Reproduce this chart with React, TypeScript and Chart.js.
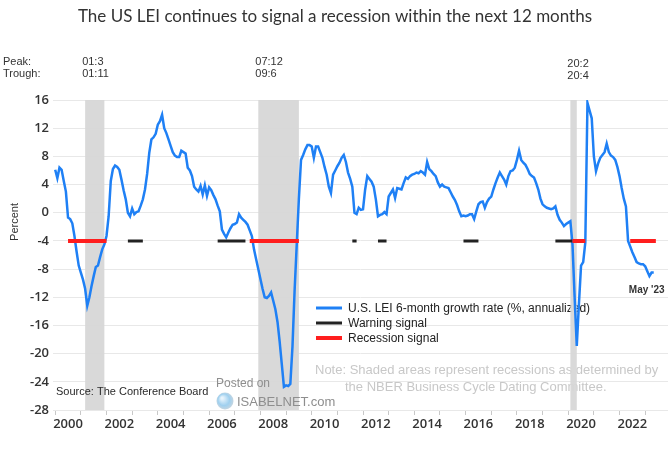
import React, { useEffect, useRef } from "react";
import { Chart, registerables } from "chart.js";
Chart.register(...registerables);

// ---------- DATA ----------
const lineDates = [
  "2000-01","2000-02","2000-03","2000-04","2000-05","2000-06","2000-07","2000-08","2000-09","2000-10","2000-11","2000-12",
  "2001-01","2001-02","2001-03","2001-04","2001-05","2001-06","2001-07","2001-08","2001-09","2001-10","2001-11","2001-12",
  "2002-01","2002-02","2002-03","2002-04","2002-05","2002-06","2002-07","2002-08","2002-09","2002-10","2002-11","2002-12",
  "2003-01","2003-02","2003-03","2003-04","2003-05","2003-06","2003-07","2003-08","2003-09","2003-10","2003-11","2003-12",
  "2004-01","2004-02","2004-03","2004-04","2004-05","2004-06","2004-07","2004-08","2004-09","2004-10","2004-11","2004-12",
  "2005-01","2005-02","2005-03","2005-04","2005-05","2005-06","2005-07","2005-08","2005-09","2005-10","2005-11","2005-12",
  "2006-01","2006-02","2006-03","2006-04","2006-05","2006-06","2006-07","2006-08","2006-09","2006-10","2006-11","2006-12",
  "2007-01","2007-02","2007-03","2007-04","2007-05","2007-06","2007-07","2007-08","2007-09","2007-10","2007-11","2007-12",
  "2008-01","2008-02","2008-03","2008-04","2008-05","2008-06","2008-07","2008-08","2008-09","2008-10","2008-11","2008-12",
  "2009-01","2009-02","2009-03","2009-04","2009-05","2009-06","2009-07","2009-08","2009-09","2009-10","2009-11","2009-12",
  "2010-01","2010-02","2010-03","2010-04","2010-05","2010-06","2010-07","2010-08","2010-09","2010-10","2010-11","2010-12",
  "2011-01","2011-02","2011-03","2011-04","2011-05","2011-06","2011-07","2011-08","2011-09","2011-10","2011-11","2011-12",
  "2012-01","2012-02","2012-03","2012-04","2012-05","2012-06","2012-07","2012-08","2012-09","2012-10","2012-11","2012-12",
  "2013-01","2013-02","2013-03","2013-04","2013-05","2013-06","2013-07","2013-08","2013-09","2013-10","2013-11","2013-12",
  "2014-01","2014-02","2014-03","2014-04","2014-05","2014-06","2014-07","2014-08","2014-09","2014-10","2014-11","2014-12",
  "2015-01","2015-02","2015-03","2015-04","2015-05","2015-06","2015-07","2015-08","2015-09","2015-10","2015-11","2015-12",
  "2016-01","2016-02","2016-03","2016-04","2016-05","2016-06","2016-07","2016-08","2016-09","2016-10","2016-11","2016-12",
  "2017-01","2017-02","2017-03","2017-04","2017-05","2017-06","2017-07","2017-08","2017-09","2017-10","2017-11","2017-12",
  "2018-01","2018-02","2018-03","2018-04","2018-05","2018-06","2018-07","2018-08","2018-09","2018-10","2018-11","2018-12",
  "2019-01","2019-02","2019-03","2019-04","2019-05","2019-06","2019-07","2019-08","2019-09","2019-10","2019-11","2019-12",
  "2020-01","2020-02","2020-03","2020-04","2020-05","2020-06","2020-07","2020-08","2020-09","2020-10","2020-11","2020-12",
  "2021-01","2021-02","2021-03","2021-04","2021-05","2021-06","2021-07","2021-08","2021-09","2021-10","2021-11","2021-12",
  "2022-01","2022-02","2022-03","2022-04","2022-05","2022-06","2022-07","2022-08","2022-09","2022-10","2022-11","2022-12",
  "2023-01","2023-02","2023-03","2023-04","2023-05",
];

const lineValues = [
  6.1, 4.9, 6.4, 6.1, 4.5, 3.0, -0.7, -0.9, -1.5, -3.3, -5.5, -7.5,
  -8.5, -9.5, -10.8, -13.2, -12.0, -10.4, -9.0, -7.7, -7.5, -6.3, -5.2, -4.5,
  -3.3, -0.5, 4.5, 6.2, 6.7, 6.5, 6.1, 4.7, 3.2, 1.9, 0.0, -0.5,
  0.6, -0.2, 0.1, 0.2, 1.0, 1.9, 3.3, 5.5, 8.5, 10.4, 10.7, 11.2,
  12.5, 13.0, 13.9, 12.0, 11.3, 10.4, 9.5, 8.6, 8.1, 7.9, 7.9, 8.8,
  8.6, 8.4, 6.4, 6.0, 5.2, 3.7, 3.3, 3.0, 3.8, 2.6, 3.9, 2.4,
  3.6, 3.2, 2.5, 1.9, 1.0, 0.2, -2.4, -3.0, -3.5, -2.8, -2.2, -1.7,
  -1.6, -1.4, -0.2, -0.7, -1.0, -1.3, -1.7, -2.5, -3.3, -5.2, -6.6, -8.0,
  -9.4, -10.8, -12.0, -12.1, -11.8, -11.3, -12.5, -13.7, -15.5, -18.3, -21.5, -24.7,
  -24.5, -24.6, -24.3, -19.0, -11.0, -4.5, 2.0, 7.5, 8.2, 9.0, 9.6, 9.6,
  9.4, 7.8, 9.4, 9.4, 8.6, 7.8, 6.5, 5.4, 3.7, 2.8, 5.4, 6.0,
  6.6, 7.1, 7.8, 8.2, 7.2, 5.7, 4.8, 3.7, 0.0, -0.2, 0.7, 0.4,
  0.5, 3.3, 5.2, 4.8, 4.4, 3.7, 1.9, -0.5, -0.3, -0.2, 0.1, -0.2,
  2.3, 2.8, 3.3, 2.1, 3.5, 3.4, 3.3, 4.2, 5.0, 4.8, 5.2, 5.4,
  5.5, 5.7, 5.6, 5.9, 5.7, 5.4, 7.2, 6.2, 5.9, 5.5, 5.2, 4.3,
  3.7, 4.0, 3.7, 3.6, 3.5, 2.9, 2.3, 1.8, 1.1, 0.2, -0.5, -0.4,
  -0.5, -0.4, -0.2, -0.2, -0.9, 0.2, 1.2, 1.5, 1.6, 0.7, 1.5, 2.0,
  2.3, 3.3, 4.2, 5.0, 5.7, 5.2, 4.7, 4.0, 5.2, 5.9, 6.0, 6.4,
  7.5, 8.8, 7.5, 7.1, 6.8, 6.2, 5.5, 5.2, 5.0, 4.2, 3.3, 2.0,
  1.2, 0.9, 0.7, 0.6, 0.5, 0.6, 0.9, -0.3, -1.0, -1.4, -1.9, -1.6,
  -1.4, -1.2, -4.5, -12.0, -18.9, -13.0, -7.5, -7.0, -4.2, 15.6, 14.5, 13.4,
  8.0, 5.9, 7.0, 7.8, 8.2, 8.6, 9.8, 8.6, 8.1, 7.9, 7.5, 6.5,
  5.2, 3.5, 2.0, 0.9, -4.0, -4.8, -5.6, -6.3, -7.0, -7.2, -7.3, -7.3,
  -7.6, -8.3, -9.0, -8.5, -8.5,
];

const recessionStarts = ["2001-03", "2007-12", "2020-02"];
const recessionEnds = ["2001-11", "2009-06", "2020-04"];
const peakLabels = ["01:3", "07:12", "20:2"];
const troughLabels = ["01:11", "09:6", "20:4"];

const signalLevel = -4;
const warningStarts = ["2002-11", "2006-05", "2011-08", "2012-08", "2015-12", "2019-07"];
const warningEnds = ["2003-06", "2007-06", "2011-10", "2012-12", "2016-07", "2020-03"];
const recessionSignalStarts = ["2000-07", "2007-08", "2020-03", "2022-06"];
const recessionSignalEnds = ["2002-01", "2009-07", "2020-09", "2023-06"];

const yMin = -28;
const yMax = 16;
const yStep = 4;
const firstYear = 2000;
const lastYear = 2023;
const labelYears = [2000, 2002, 2004, 2006, 2008, 2010, 2012, 2014, 2016, 2018, 2020, 2022];

const titleText = "The US LEI continues to signal a recession within the next 12 months";
const legendLabels = [
  "U.S. LEI 6-month growth rate (%, annualized)",
  "Warning signal",
  "Recession signal",
];
const noteLines = [
  "Note: Shaded areas represent recessions as determined by",
  "the NBER Business Cycle Dating Committee.",
];
const sourceText = "Source: The Conference Board";
const lastLabel = "May '23";

// ---------- HELPERS ----------
const toYear = (s: string) => {
  const [y, m] = s.split("-").map(Number);
  return y + (m - 1) / 12;
};

const segmentPoints = (starts: string[], ends: string[]) => {
  const pts: { x: number; y: number | null }[] = [];
  starts.forEach((s, i) => {
    pts.push({ x: toYear(s), y: signalLevel });
    pts.push({ x: toYear(ends[i]), y: signalLevel });
    pts.push({ x: toYear(ends[i]) + 0.001, y: null });
  });
  return pts;
};

const BLUE = "#1f80f5";
const RED = "#ff1e1e";
const BLACK = "#222222";

export default function App() {
  const ref = useRef<HTMLCanvasElement | null>(null);

  useEffect(() => {
    const canvas = ref.current;
    if (!canvas) return;

    const underPlugin = {
      id: "under",
      beforeDatasetsDraw(chart: any) {
        const { ctx, chartArea, scales } = chart;
        const xs = scales.x;
        ctx.save();
        // Note text (under shading)
        ctx.fillStyle = "#c8c8c8";
        ctx.font = "13px 'Liberation Sans', Arial, sans-serif";
        ctx.textBaseline = "middle";
        ctx.textAlign = "left";
        ctx.fillText(noteLines[0], 315, 370);
        ctx.fillText(noteLines[1], 345, 387);
        // Legend
        const legendColors = [BLUE, BLACK, RED];
        const legendWidths = [3, 3, 4];
        legendLabels.forEach((t, i) => {
          const y = 308 + i * 15;
          ctx.strokeStyle = legendColors[i];
          ctx.lineWidth = legendWidths[i];
          ctx.beginPath();
          ctx.moveTo(316, y);
          ctx.lineTo(342, y);
          ctx.stroke();
          ctx.fillStyle = "#222";
          ctx.font = "12px 'Liberation Sans', Arial, sans-serif";
          ctx.fillText(t, 348, y + 1);
        });
        // Recession shading
        ctx.fillStyle = "rgba(215,215,215,0.95)";
        recessionStarts.forEach((s, i) => {
          const x0 = xs.getPixelForValue(toYear(s));
          const x1 = xs.getPixelForValue(toYear(recessionEnds[i]) + 1 / 12);
          ctx.fillRect(x0, chartArea.top, x1 - x0, chartArea.bottom - chartArea.top);
        });
        // Source + posted on (over shading)
        ctx.fillStyle = "#2a2a2a";
        ctx.font = "11px 'Liberation Sans', Arial, sans-serif";
        ctx.fillText(sourceText, 56, 392);
        ctx.fillStyle = "#8e8e8e";
        ctx.font = "12px 'Liberation Sans', Arial, sans-serif";
        ctx.fillText("Posted on", 216, 384);
        ctx.font = "13px 'Liberation Sans', Arial, sans-serif";
        ctx.fillText("ISABELNET.com", 237, 402);
        const g = ctx.createRadialGradient(222, 398, 1, 225, 401, 9);
        g.addColorStop(0, "#e8f4fc");
        g.addColorStop(0.6, "#9fd0ef");
        g.addColorStop(1, "#c9d6df");
        ctx.fillStyle = g;
        ctx.beginPath();
        ctx.arc(225, 401, 8.5, 0, Math.PI * 2);
        ctx.fill();
        ctx.restore();
      },
    };

    const overPlugin = {
      id: "over",
      afterDraw(chart: any) {
        const { ctx, scales } = chart;
        const xs = scales.x;
        ctx.save();
        ctx.textBaseline = "middle";
        // Title
        ctx.fillStyle = "#333";
        ctx.font = "17px Lato, 'Open Sans', sans-serif";
        ctx.textAlign = "center";
        ctx.fillText(titleText, 335, 17);
        // Peak / trough
        ctx.textAlign = "left";
        ctx.font = "11px 'Liberation Sans', Arial, sans-serif";
        ctx.fillStyle = "#333";
        ctx.fillText("Peak:", 3, 62);
        ctx.fillText("Trough:", 3, 74);
        recessionStarts.forEach((s, i) => {
          const x = xs.getPixelForValue(toYear(s)) - 3;
          const dy = i === 2 ? 2 : 0;
          ctx.fillText(peakLabels[i], x, 62 + dy);
          ctx.fillText(troughLabels[i], x, 74 + dy);
        });
        // Percent
        ctx.save();
        ctx.translate(15, 222);
        ctx.rotate(-Math.PI / 2);
        ctx.textAlign = "center";
        ctx.fillText("Percent", 0, 0);
        ctx.restore();
        // Last label
        ctx.font = "bold 10px 'Liberation Sans', Arial, sans-serif";
        ctx.fillStyle = "#333";
        ctx.textAlign = "center";
        const lastX = xs.getPixelForValue(toYear(lineDates[lineDates.length - 1]));
        ctx.fillText(lastLabel, lastX - 7, 290);
        ctx.restore();
      },
    };

    const xTicks: number[] = [];
    for (let y = firstYear; y <= lastYear; y++) xTicks.push(y);
    labelYears.forEach((y) => xTicks.push(y + 0.5));
    xTicks.sort((a, b) => a - b);

    const tickFont = { family: "'Open Sans', sans-serif", size: 13, weight: "600" as any };

    const chart = new Chart(canvas, {
      type: "line",
      data: {
        datasets: [
          {
            label: legendLabels[2],
            data: segmentPoints(recessionSignalStarts, recessionSignalEnds) as any,
            borderColor: RED,
            borderWidth: 4,
            pointRadius: 0,
            spanGaps: false,
            order: 0,
            borderCapStyle: "butt",
          },
          {
            label: legendLabels[1],
            data: segmentPoints(warningStarts, warningEnds) as any,
            borderColor: BLACK,
            borderWidth: 3,
            pointRadius: 0,
            spanGaps: false,
            order: 1,
            borderCapStyle: "butt",
          },
          {
            label: legendLabels[0],
            data: lineDates.map((d, i) => ({ x: toYear(d), y: lineValues[i] })),
            borderColor: BLUE,
            borderWidth: 2.5,
            pointRadius: 0,
            tension: 0,
            order: 2,
          },
        ],
      },
      options: {
        responsive: false,
        animation: false,
        devicePixelRatio: 1,
        layout: { padding: { top: 100, right: 2, bottom: 0, left: 0 } },
        plugins: { legend: { display: false }, tooltip: { enabled: false }, title: { display: false } },
        scales: {
          x: {
            type: "linear",
            min: 1999.914,
            max: 2023.89,
            afterBuildTicks: (axis: any) => {
              axis.ticks = xTicks.map((v) => ({ value: v }));
            },
            afterFit: (axis: any) => {
              axis.height = 39;
            },
            border: { display: false },
            grid: {
              drawOnChartArea: false,
              drawTicks: true,
              tickLength: 5,
              color: (c: any) => (c.tick && Number.isInteger(c.tick.value) ? "#c8c8c8" : "rgba(0,0,0,0)"),
              tickColor: (c: any) => (c.tick && Number.isInteger(c.tick.value) ? "#c8c8c8" : "rgba(0,0,0,0)"),
            },
            ticks: {
              autoSkip: false,
              maxRotation: 0,
              minRotation: 0,
              padding: 1,
              color: "#333",
              font: tickFont,
              callback: (v: any) => {
                const n = Number(v);
                return Number.isInteger(n) ? "" : String(Math.floor(n));
              },
            },
          },
          y: {
            min: yMin,
            max: yMax,
            afterFit: (axis: any) => {
              axis.width = 53;
            },
            border: { display: false },
            grid: { color: "#e8e8e8", drawTicks: false, lineWidth: 1 },
            ticks: { stepSize: yStep, color: "#333", font: tickFont, padding: 4 },
          },
        },
      },
      plugins: [underPlugin, overPlugin],
    });

    return () => chart.destroy();
  }, []);

  return (
    <div style={{ position: "fixed", left: 0, top: 0, width: 670, height: 449, background: "#fff" }}>
      <canvas ref={ref} width={670} height={449} style={{ display: "block" }} />
    </div>
  );
}
